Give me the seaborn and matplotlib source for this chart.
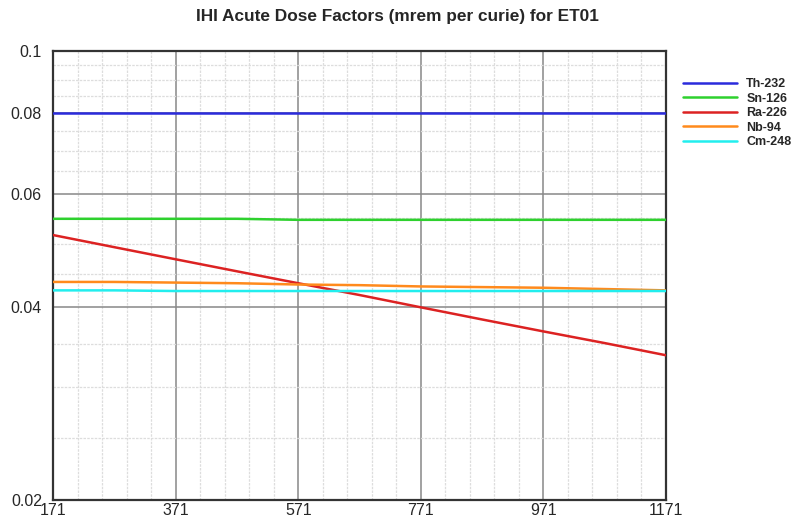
import matplotlib
matplotlib.use("Agg")
import matplotlib.pyplot as plt
import matplotlib.ticker as mticker
import seaborn as sns
import pandas as pd

x_vals = [171, 271, 371, 471, 571, 671, 771, 871, 971, 1071, 1171]
th232 = [0.0800] * 11
sn126 = [0.0548, 0.0548, 0.0548, 0.0548, 0.0546, 0.0546, 0.0546, 0.0546, 0.0546, 0.0546, 0.0546]
ra226 = [0.0517, 0.0495, 0.0474, 0.0454, 0.0435, 0.0417, 0.0399, 0.0382, 0.0366, 0.0351, 0.0336]
nb94 = [0.0437, 0.0437, 0.0436, 0.0435, 0.0433, 0.0432, 0.0430, 0.0429, 0.0428, 0.0426, 0.0424]
cm248 = [0.0424, 0.0424, 0.0423, 0.0423, 0.0423, 0.0423, 0.0423, 0.0423, 0.0423, 0.0423, 0.0423]
series_names = ["Th-232", "Sn-126", "Ra-226", "Nb-94", "Cm-248"]
colors = ["#2b2bdc", "#2ed12e", "#dc2222", "#ff8a1c", "#22eeee"]
y_major = [0.02, 0.04, 0.06, 0.08, 0.1]
y_major_labels = ["0.02", "0.04", "0.06", "0.08", "0.1"]
x_major = [171, 371, 571, 771, 971, 1171]

rows = []
for name, vals in zip(series_names, [th232, sn126, ra226, nb94, cm248]):
    for xv, yv in zip(x_vals, vals):
        rows.append({"x": xv, "value": yv, "nuclide": name})
df = pd.DataFrame(rows)

sns.set_style("white")
plt.rcParams["font.family"] = ["Liberation Sans", "DejaVu Sans"]

fig = plt.figure(figsize=(7.94, 5.21), dpi=100)
ax = fig.add_axes([53 / 794, 1 - 500 / 521, (666 - 53) / 794, (500 - 51) / 521])

sns.lineplot(data=df, x="x", y="value", hue="nuclide", hue_order=series_names,
             palette=dict(zip(series_names, colors)), linewidth=1.8, ax=ax,
             legend=False, zorder=3)

ax.set_yscale("log")
ax.set_xlim(171, 1171)
ax.set_ylim(0.02, 0.1)
ax.yaxis.set_major_locator(mticker.FixedLocator(y_major))
ax.yaxis.set_major_formatter(mticker.FixedFormatter(y_major_labels))
ax.yaxis.set_minor_locator(mticker.FixedLocator(
    [v / 1000 for v in range(25, 100, 5) if v not in (40, 60, 80)]))
ax.yaxis.set_minor_formatter(mticker.NullFormatter())
ax.xaxis.set_major_locator(mticker.FixedLocator(x_major))
ax.xaxis.set_minor_locator(mticker.MultipleLocator(40, offset=11))

ax.grid(which="major", color="#888888", linewidth=1.1, linestyle="-", zorder=1)
ax.grid(which="minor", color="#dddddd", linewidth=0.9, linestyle=(0, (2, 1)), zorder=1)
ax.set_axisbelow(True)

ax.tick_params(which="both", length=0)
ax.tick_params(axis="y", labelsize=11.5, pad=8)
ax.tick_params(axis="x", labelsize=11.5, pad=2)
ax.set_xlabel("")
ax.set_ylabel("")
for s in ax.spines.values():
    s.set_color("#333333")
    s.set_linewidth(1.6)

fig.text(0.5, 1 - 17 / 521,
         "IHI Acute Dose Factors (mrem per curie) for ET01",
         ha="center", va="center", fontsize=12.4, fontweight="bold")

handles = [plt.Line2D([], [], color=c, linewidth=1.8) for c in colors]
leg = fig.legend(handles, series_names, loc="upper left",
                 bbox_to_anchor=(672 / 794, 1 - 67 / 521), frameon=False,
                 handlelength=4.3, handletextpad=0.75, labelspacing=0.2,
                 prop={"size": 9, "weight": "bold"})

fig.savefig("out.png", dpi=100)
